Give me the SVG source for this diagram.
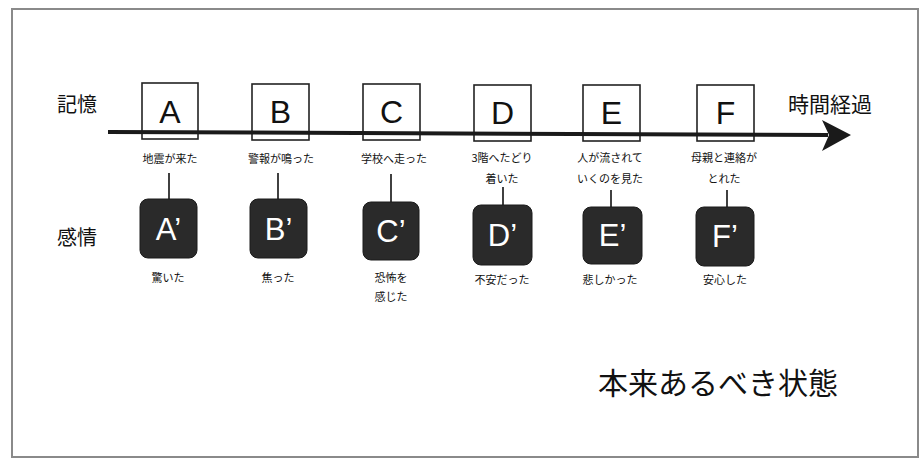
<svg xmlns="http://www.w3.org/2000/svg" width="921" height="460" viewBox="0 0 921 460">
<style>
.jp{font-family:"Noto Sans CJK JP","Noto Sans CJK SC",sans-serif;fill:#111}
.lbl{font-size:11px;text-anchor:middle;dominant-baseline:central}
.hd{font-size:20px;dominant-baseline:central}
.mem{fill:#fff;stroke:#222;stroke-width:1.6}
.emo{fill:#2a2a2a;stroke:#1a1a1a;stroke-width:1}
.let{font-family:"Liberation Sans",Arial,sans-serif;font-size:32px;text-anchor:middle;dominant-baseline:central}
.mlet{fill:#111}
.elet{fill:#fff;font-size:31px}
.conn{stroke:#111;stroke-width:1.6;fill:none}
</style>
<rect x="12" y="9" width="906" height="448" fill="#fff" stroke="#8a8a8a" stroke-width="2"/>
<text class="jp hd" x="57" y="103">記憶</text>
<text class="jp hd" x="57" y="236">感情</text>
<text class="jp hd" x="788" y="103" style="font-size:21px">時間経過</text>
<text class="jp" x="598" y="381" style="font-size:30px;dominant-baseline:central">本来あるべき状態</text>

<g id="A"><rect class="mem" x="142" y="83" width="56" height="56"/><text class="let mlet" x="170" y="112">A</text><text class="jp lbl" x="170" y="158">地震が来た</text></g>
<g id="B"><rect class="mem" x="252" y="84" width="57" height="56"/><text class="let mlet" x="280.5" y="112">B</text><text class="jp lbl" x="281" y="158">警報が鳴った</text></g>
<g id="C"><rect class="mem" x="363" y="84" width="57" height="56"/><text class="let mlet" x="391.5" y="112">C</text><text class="jp lbl" x="394" y="158">学校へ走った</text></g>
<g id="D"><rect class="mem" x="474" y="85" width="57" height="56"/><text class="let mlet" x="502.5" y="113">D</text><text class="jp lbl" x="502" y="157">3階へたどり</text><text class="jp lbl" x="502" y="178">着いた</text></g>
<g id="E"><rect class="mem" x="583" y="85" width="57" height="56"/><text class="let mlet" x="611.5" y="113">E</text><text class="jp lbl" x="610" y="157">人が流されて</text><text class="jp lbl" x="610" y="178">いくのを見た</text></g>
<g id="F"><rect class="mem" x="697" y="85" width="57" height="56"/><text class="let mlet" x="725.5" y="113">F</text><text class="jp lbl" x="724" y="157">母親と連絡が</text><text class="jp lbl" x="724" y="178">とれた</text></g>

<g id="connectors">
<path d="M108,132 L828,135" stroke="#1a1a1a" stroke-width="4" fill="none"/>
<path d="M822,120 L851,135 L822,151 L829,135 Z" fill="#1a1a1a"/>
<line class="conn" x1="169" y1="173" x2="169" y2="199"/>
<line class="conn" x1="278" y1="173" x2="278" y2="199"/>
<line class="conn" x1="391" y1="174" x2="391" y2="202"/>
<line class="conn" x1="503" y1="187" x2="503" y2="205"/>
<line class="conn" x1="611" y1="190" x2="611" y2="207"/>
<line class="conn" x1="727" y1="190" x2="727" y2="207"/>
</g>

<g id="A2"><rect class="emo" x="140" y="199" width="57" height="59" rx="8"/><text class="let elet" x="168.5" y="229">A’</text><text class="jp lbl" x="168" y="277">驚いた</text></g>
<g id="B2"><rect class="emo" x="250" y="199" width="57" height="59" rx="8"/><text class="let elet" x="278.5" y="229">B’</text><text class="jp lbl" x="278" y="277">焦った</text></g>
<g id="C2"><rect class="emo" x="363" y="202" width="56" height="58" rx="8"/><text class="let elet" x="391" y="231">C’</text><text class="jp lbl" x="391" y="277">恐怖を</text><text class="jp lbl" x="391" y="296">感じた</text></g>
<g id="D2"><rect class="emo" x="473" y="205" width="59" height="60" rx="8"/><text class="let elet" x="502.5" y="235">D’</text><text class="jp lbl" x="502" y="279">不安だった</text></g>
<g id="E2"><rect class="emo" x="583" y="207" width="59" height="57" rx="8"/><text class="let elet" x="612.5" y="235">E’</text><text class="jp lbl" x="610" y="279">悲しかった</text></g>
<g id="F2"><rect class="emo" x="696" y="207" width="58" height="59" rx="8"/><text class="let elet" x="725" y="236">F’</text><text class="jp lbl" x="725" y="279">安心した</text></g>
</svg>
